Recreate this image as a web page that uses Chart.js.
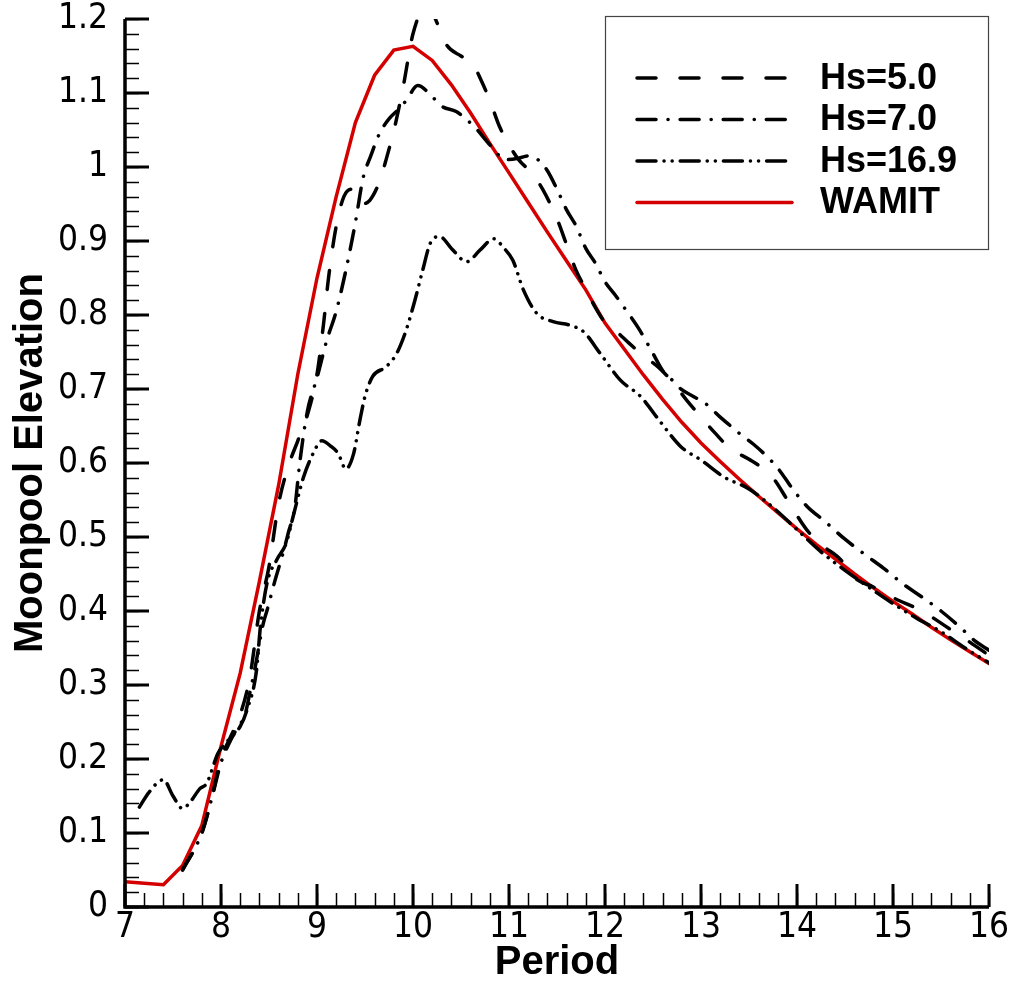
<!DOCTYPE html>
<html>
<head>
<meta charset="utf-8">
<script src="https://cdn.jsdelivr.net/npm/chart.js@4/dist/chart.umd.min.js"></script>
<style>
  body { margin: 0; background: #fff; }
  #wrap { width: 1012px; height: 985px; }
</style>
</head>
<body>
<div id="wrap"><canvas id="moonpoolChart" width="1012" height="985"></canvas></div>
<script>
// values
const seriesNames = ['Hs=5.0', 'Hs=7.0', 'Hs=16.9', 'WAMIT'];

const hs5Period = [7.6, 7.8, 7.9, 8.0, 8.1, 8.2, 8.3, 8.4, 8.5, 8.6, 8.7, 8.8, 8.9, 9.0, 9.07, 9.12, 9.2, 9.28, 9.36, 9.45,
  9.55, 9.65, 9.72, 9.82, 9.9, 10.0, 10.15, 10.25, 10.35, 10.5, 10.62, 10.7, 10.8, 10.9, 11.0, 11.1, 11.25, 11.35, 11.5, 11.6,
  11.7, 11.8, 11.9, 12.0, 12.1, 12.25, 12.4, 12.55, 12.7, 12.85, 13.0, 13.15, 13.3, 13.5, 13.62, 13.75, 13.9, 14.1, 14.25, 14.45,
  14.6, 14.8, 15.0, 15.3, 15.6, 15.8, 16.0];
const hs5 = [0.05, 0.10, 0.145, 0.20, 0.23, 0.26, 0.31, 0.40, 0.46, 0.545, 0.595, 0.63, 0.665, 0.72, 0.79, 0.85, 0.92, 0.96, 0.97, 0.95,
  0.955, 0.98, 1.01, 1.06, 1.11, 1.18, 1.22, 1.195, 1.165, 1.15, 1.14, 1.12, 1.09, 1.055, 1.03, 1.01, 0.99, 0.97, 0.93, 0.895,
  0.86, 0.835, 0.81, 0.79, 0.78, 0.762, 0.745, 0.73, 0.71, 0.685, 0.662, 0.64, 0.62, 0.605, 0.595, 0.58, 0.55, 0.51, 0.49, 0.47,
  0.445, 0.432, 0.418, 0.40, 0.375, 0.358, 0.34];

const hs7Period = [7.6, 7.8, 7.9, 8.0, 8.08, 8.16, 8.25, 8.3, 8.35, 8.44, 8.48, 8.56, 8.65, 8.7, 8.77, 8.82, 8.9, 9.0, 9.1, 9.2,
  9.3, 9.4, 9.48, 9.56, 9.65, 9.75, 9.85, 9.93, 10.05, 10.2, 10.3, 10.45, 10.55, 10.65, 10.8, 10.97, 11.1, 11.2, 11.3, 11.4,
  11.5, 11.6, 11.7, 11.8, 11.9, 12.0, 12.1, 12.2, 12.35, 12.5, 12.6, 12.7, 12.8, 12.92, 13.05, 13.2, 13.3, 13.4, 13.55, 13.67,
  13.8, 13.96, 14.1, 14.3, 14.5, 14.7, 14.9, 15.1, 15.3, 15.5, 15.7, 15.85, 16.0];
const hs7 = [0.05, 0.10, 0.145, 0.195, 0.22, 0.24, 0.26, 0.289, 0.32, 0.383, 0.401, 0.44, 0.48, 0.505, 0.541, 0.60, 0.67, 0.715, 0.765, 0.805,
  0.86, 0.925, 0.985, 1.015, 1.045, 1.065, 1.078, 1.09, 1.11, 1.095, 1.082, 1.075, 1.065, 1.053, 1.03, 1.01, 1.012, 1.015, 1.01, 0.995,
  0.97, 0.942, 0.92, 0.89, 0.87, 0.845, 0.828, 0.81, 0.782, 0.748, 0.725, 0.712, 0.699, 0.69, 0.68, 0.662, 0.651, 0.64, 0.625, 0.611,
  0.593, 0.564, 0.542, 0.52, 0.497, 0.477, 0.458, 0.437, 0.419, 0.40, 0.378, 0.36, 0.347];

const hs169Period = [7.15, 7.25, 7.4, 7.5, 7.6, 7.68, 7.78, 7.85, 7.97, 8.08, 8.2, 8.27, 8.37, 8.41, 8.48, 8.58, 8.68, 8.75, 8.86, 8.96,
  9.05, 9.15, 9.22, 9.3, 9.38, 9.45, 9.5, 9.58, 9.72, 9.83, 9.93, 10.02, 10.1, 10.18, 10.28, 10.4, 10.56, 10.7, 10.84, 10.95,
  11.04, 11.15, 11.29, 11.46, 11.64, 11.78, 11.95, 12.16, 12.37, 12.58, 12.79, 13.0, 13.24, 13.5, 13.75, 14.0, 14.25, 14.5, 14.75, 15.0,
  15.25, 15.5, 15.75, 16.0];
const hs169 = [0.135, 0.155, 0.172, 0.15, 0.133, 0.142, 0.16, 0.167, 0.208, 0.226, 0.244, 0.266, 0.32, 0.378, 0.438, 0.469, 0.492, 0.527, 0.581, 0.613,
  0.63, 0.622, 0.613, 0.592, 0.612, 0.66, 0.69, 0.717, 0.73, 0.748, 0.78, 0.82, 0.86, 0.897, 0.906, 0.89, 0.872, 0.888, 0.903, 0.89,
  0.874, 0.834, 0.802, 0.791, 0.786, 0.777, 0.748, 0.712, 0.69, 0.655, 0.622, 0.604, 0.581, 0.565, 0.54, 0.51, 0.48, 0.455, 0.432, 0.41,
  0.39, 0.372, 0.35, 0.33];

const wamitPeriod = [7.0, 7.2, 7.4, 7.6, 7.8, 8.0, 8.2, 8.4, 8.6, 8.8, 9.0, 9.2, 9.4, 9.6, 9.8, 10.0, 10.2, 10.4, 10.6, 10.8,
  11.0, 11.2, 11.4, 11.6, 11.8, 12.0, 12.2, 12.4, 12.6, 12.8, 13.0, 13.2, 13.4, 13.6, 13.8, 14.0, 14.2, 14.4, 14.6, 14.8,
  15.0, 15.2, 15.4, 15.6, 15.8, 16.0];
const wamit = [0.034, 0.032, 0.030, 0.056, 0.11, 0.217, 0.316, 0.44, 0.57, 0.72, 0.85, 0.96, 1.06, 1.124, 1.158, 1.163, 1.144, 1.111, 1.073, 1.032,
  0.992, 0.952, 0.912, 0.873, 0.834, 0.789, 0.754, 0.719, 0.686, 0.655, 0.627, 0.602, 0.578, 0.555, 0.533, 0.511, 0.490, 0.470, 0.450, 0.431,
  0.413, 0.396, 0.378, 0.361, 0.345, 0.329];

const xTicks = [7, 8, 9, 10, 11, 12, 13, 14, 15, 16];
const yTicks = [0, 0.1, 0.2, 0.3, 0.4, 0.5, 0.6, 0.7, 0.8, 0.9, 1, 1.1, 1.2];

const toPoints = (xs, ys) => xs.map((x, i) => ({ x: x, y: ys[i] }));

const narrowFont = '"Liberation Sans Narrow", "DejaVu Sans Condensed", "Liberation Sans", sans-serif';
const boldFont = '"Liberation Sans", Arial, sans-serif';
const red = 'rgb(212, 0, 0)';

// inward major/minor ticks and axis lines, Tecplot style
const tecAxes = {
  id: 'tecAxes',
  afterDraw(chart) {
    const { ctx, chartArea: { left, right, top, bottom }, scales: { x, y } } = chart;
    ctx.save();
    ctx.strokeStyle = '#000';
    ctx.lineCap = 'butt';
    const xMinor = 0.2, yMinor = 0.02;
    ctx.lineWidth = 1.5;
    for (let v = x.min; v <= x.max + 1e-9; v += xMinor) {
      const px = Math.round(x.getPixelForValue(v)) + 0.5;
      ctx.beginPath(); ctx.moveTo(px, bottom); ctx.lineTo(px, bottom - 14); ctx.stroke();
    }
    for (let v = y.min; v <= y.max + 1e-9; v += yMinor) {
      const py = Math.round(y.getPixelForValue(v)) + 0.5;
      ctx.beginPath(); ctx.moveTo(left, py); ctx.lineTo(left + 14, py); ctx.stroke();
    }
    ctx.lineWidth = 3;
    xTicks.forEach(v => {
      const px = x.getPixelForValue(v);
      ctx.beginPath(); ctx.moveTo(px, bottom); ctx.lineTo(px, bottom - 23); ctx.stroke();
    });
    yTicks.forEach(v => {
      const py = y.getPixelForValue(v);
      ctx.beginPath(); ctx.moveTo(left, py); ctx.lineTo(left + 24, py); ctx.stroke();
    });
    ctx.lineWidth = 3.5;
    ctx.beginPath();
    ctx.moveTo(left, top);
    ctx.lineTo(left, bottom);
    ctx.lineTo(right, bottom);
    ctx.stroke();
    ctx.restore();
  }
};

// boxed legend in the upper right corner
const boxLegend = {
  id: 'boxLegend',
  afterDraw(chart) {
    const { ctx } = chart;
    ctx.save();
    ctx.strokeStyle = '#444';
    ctx.lineWidth = 1.2;
    ctx.strokeRect(605.5, 16.5, 383, 233);
    chart.data.datasets.forEach((ds, i) => {
      const yy = 78 + i * 41.5;
      ctx.strokeStyle = ds.borderColor;
      ctx.lineWidth = ds.borderWidth;
      ctx.lineCap = ds.borderCapStyle || 'butt';
      ctx.setLineDash(ds.borderDash || []);
      ctx.beginPath(); ctx.moveTo(637, yy); ctx.lineTo(792, yy); ctx.stroke();
      ctx.setLineDash([]);
      ctx.fillStyle = '#000';
      ctx.font = 'bold 36px ' + boldFont;
      ctx.textBaseline = 'middle';
      ctx.textAlign = 'left';
      ctx.fillText(ds.label, 820, yy + 1);
    });
    ctx.restore();
  }
};

const ctx = document.getElementById('moonpoolChart').getContext('2d');
new Chart(ctx, {
  type: 'line',
  data: {
    datasets: [
      {
        label: seriesNames[0],
        data: toPoints(hs5Period, hs5),
        borderColor: '#000',
        borderWidth: 3.5,
        borderDash: [19, 24],
        borderCapStyle: 'round',
        cubicInterpolationMode: 'monotone',
        pointRadius: 0,
        clip: 0,
      },
      {
        label: seriesNames[1],
        data: toPoints(hs7Period, hs7),
        borderColor: '#000',
        borderWidth: 3.5,
        borderDash: [19, 12, 0.1, 12],
        borderCapStyle: 'round',
        cubicInterpolationMode: 'monotone',
        pointRadius: 0,
        clip: 0,
      },
      {
        label: seriesNames[2],
        data: toPoints(hs169Period, hs169),
        borderColor: '#000',
        borderWidth: 3.5,
        borderDash: [19, 8, 0.1, 8, 0.1, 8],
        borderCapStyle: 'round',
        cubicInterpolationMode: 'monotone',
        pointRadius: 0,
        clip: 0,
      },
      {
        label: seriesNames[3],
        data: toPoints(wamitPeriod, wamit),
        borderColor: red,
        borderWidth: 3.5,
        borderCapStyle: 'round',
        tension: 0,
        pointRadius: 0,
        clip: 0,
      },
    ],
  },
  options: {
    responsive: false,
    animation: false,
    layout: { padding: { top: 19, right: 23, left: 0, bottom: 0 } },
    plugins: {
      legend: { display: false },
      tooltip: { enabled: false },
    },
    scales: {
      x: {
        type: 'linear',
        min: 7,
        max: 16,
        border: { display: false },
        grid: { display: false },
        afterFit: (scale) => {
          scale.height = 78;
          scale.paddingLeft = 0;
          scale.paddingRight = 0;
        },
        afterBuildTicks: (scale) => { scale.ticks = xTicks.map(v => ({ value: v })); },
        ticks: {
          color: '#000',
          padding: -8,
          maxRotation: 0,
          font: { family: narrowFont, size: 35 },
          callback: (v) => String(v),
        },
        title: {
          display: true,
          text: 'Period',
          color: '#000',
          padding: { top: 0, bottom: 2 },
          font: { family: boldFont, size: 40, weight: 'bold', lineHeight: 1 },
        },
      },
      y: {
        min: 0,
        max: 1.2,
        border: { display: false },
        grid: { display: false },
        afterFit: (scale) => {
          scale.width = 125;
          scale.paddingTop = 0;
          scale.paddingBottom = 0;
        },
        afterBuildTicks: (scale) => { scale.ticks = yTicks.map(v => ({ value: v })); },
        ticks: {
          color: '#000',
          padding: 9,
          font: { family: narrowFont, size: 35 },
          callback: (v) => String(+v.toFixed(1)),
        },
        title: {
          display: true,
          text: 'Moonpool Elevation',
          color: '#000',
          padding: { top: 11, bottom: 0 },
          font: { family: boldFont, size: 40, weight: 'bold', lineHeight: 1 },
        },
      },
    },
  },
  plugins: [tecAxes, boxLegend],
});
</script>
</body>
</html>
